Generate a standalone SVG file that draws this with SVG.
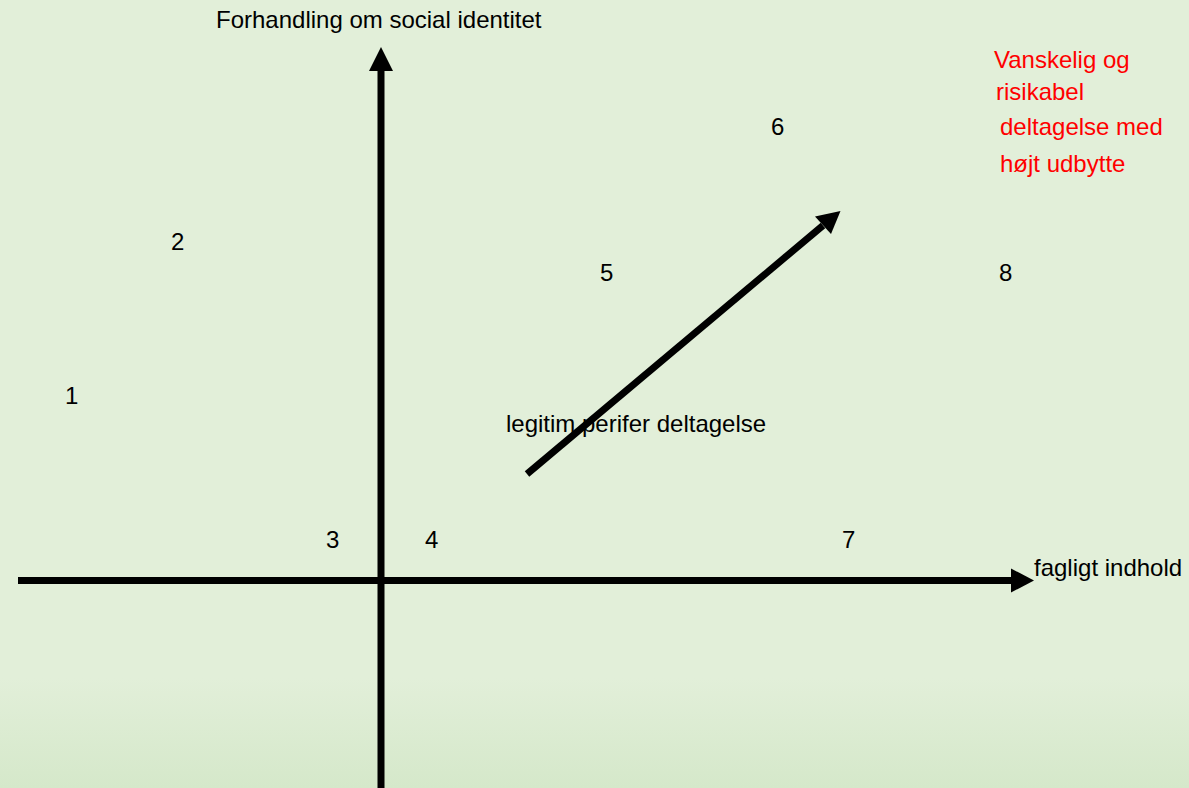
<svg xmlns="http://www.w3.org/2000/svg" width="1189" height="788" viewBox="0 0 1189 788">
<defs>
<linearGradient id="bg" x1="0" y1="0" x2="0" y2="1">
<stop offset="0" stop-color="#e2efd9"/>
<stop offset="0.86" stop-color="#e2efd9"/>
<stop offset="1" stop-color="#d5e8ca"/>
</linearGradient>
<style>
text{font-family:"Liberation Sans",Arial,sans-serif;font-size:24px;fill:#000}
.red{fill:#ff0000}
.shaft{stroke:#000;stroke-width:7;fill:none}
.head{fill:#000}
</style>
</defs>
<rect x="0" y="0" width="1189" height="788" fill="url(#bg)"/>
<g id="connectors">
<line class="shaft" x1="381" y1="788" x2="381" y2="70"/>
<polygon class="head" points="381,47 393,71 369,71"/>
<line class="shaft" x1="18" y1="580.5" x2="1012" y2="580.5"/>
<polygon class="head" points="1034,580.5 1011,592.5 1011,568.5"/>
<line class="shaft" x1="527" y1="474" x2="823" y2="225.5"/>
<polygon class="head" points="840.5,211 831,234 815,216.5"/>
</g>
<g id="label-y"><text x="216" y="28">Forhandling om social identitet</text></g>
<g id="label-x"><text x="1034" y="576">fagligt indhold</text></g>
<g id="label-lpp"><text x="506" y="432">legitim perifer deltagelse</text></g>
<g id="n1"><text x="65" y="404">1</text></g>
<g id="n2"><text x="171" y="250">2</text></g>
<g id="n3"><text x="326" y="548">3</text></g>
<g id="n4"><text x="425" y="548">4</text></g>
<g id="n5"><text x="600" y="281">5</text></g>
<g id="n6"><text x="771" y="135">6</text></g>
<g id="n7"><text x="842" y="548">7</text></g>
<g id="n8"><text x="999" y="281">8</text></g>
<g id="label-red">
<text class="red" x="994" y="68">Vanskelig og</text>
<text class="red" x="996" y="100">risikabel</text>
<text class="red" x="1000" y="135">deltagelse med</text>
<text class="red" x="1000" y="172">højt udbytte</text>
</g>
</svg>
